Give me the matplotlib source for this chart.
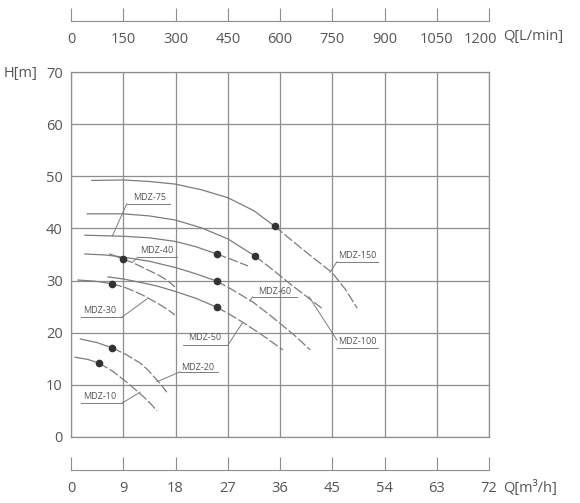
import matplotlib
matplotlib.use("Agg")
import matplotlib.pyplot as plt
import matplotlib.transforms as mtransforms

plt.rcParams["font.family"] = ["Open Sans", "DejaVu Sans"]

# pump curves: Q [m3/h] -> H [m]
# last item = index of the operating point (dot) in each curve
curves = {
    "MDZ-150": ([3.6, 9.0, 13.5, 18.0, 22.5, 27.0, 31.5, 35.1, 40.0, 45.0, 47.2, 49.3],
                [49.2, 49.3, 49.0, 48.5, 47.4, 45.9, 43.4, 40.4, 35.9, 31.5, 28.4, 24.7], 7),
    "MDZ-100": ([2.8, 9.0, 13.5, 18.0, 22.5, 27.0, 31.7, 34.5, 37.7, 40.5, 43.2],
                [42.8, 42.8, 42.4, 41.6, 40.1, 38.0, 34.7, 32.3, 29.4, 27.0, 24.7], 6),
    "MDZ-75": ([2.4, 9.0, 13.5, 18.0, 21.5, 25.1, 28.0, 30.5],
               [38.7, 38.5, 38.2, 37.5, 36.5, 35.1, 33.9, 32.8], 5),
    "MDZ-60": ([2.4, 6.0, 9.0, 13.5, 18.0, 21.5, 25.1, 28.0, 31.3, 34.0, 36.0, 38.7, 41.2],
               [35.1, 34.9, 34.5, 33.7, 32.5, 31.3, 29.9, 28.1, 25.9, 23.6, 21.8, 19.3, 16.7], 6),
    "MDZ-50": ([6.4, 9.0, 12.2, 15.0, 18.0, 21.5, 25.1, 27.5, 29.6, 33.0, 36.5],
               [30.7, 30.3, 29.6, 28.9, 27.9, 26.6, 24.9, 23.4, 22.0, 19.5, 16.7], 6),
    "MDZ-40": ([6.7, 9.0, 10.5, 12.2, 13.5, 15.0, 16.5, 17.9],
               [35.1, 34.1, 33.5, 32.6, 31.9, 31.1, 30.1, 28.8], 1),
    "MDZ-30": ([1.2, 4.0, 7.1, 9.5, 12.2, 14.0, 15.3, 16.7, 17.9],
               [30.1, 29.9, 29.4, 28.6, 27.3, 26.2, 25.4, 24.4, 23.4], 2),
    "MDZ-20": ([1.6, 4.5, 7.1, 9.5, 11.9, 13.3, 14.5, 15.6, 16.5],
               [18.8, 18.1, 17.1, 15.8, 14.2, 12.8, 11.3, 9.9, 8.6], 2),
    "MDZ-10": ([0.7, 2.8, 4.8, 7.2, 9.6, 11.3, 12.7, 13.8, 14.8],
               [15.3, 14.9, 14.2, 12.6, 10.5, 8.9, 7.5, 6.3, 5.0], 2),
}

# label text position, underline (x0, x1, y), leader (x0, y0, x1, y1)
labels = {
    "MDZ-150": ((49.3, 34.9), (45.8, 52.9, 33.6), (45.8, 33.6, 44.6, 31.6)),
    "MDZ-100": ((49.3, 18.3), (45.8, 52.9, 17.1), (45.8, 18.6, 41.0, 26.9)),
    "MDZ-75": ((13.6, 46.0), (9.6, 17.1, 44.7), (9.6, 44.7, 7.1, 38.5)),
    "MDZ-40": ((14.8, 35.7), (11.5, 18.3, 34.5), (11.5, 34.5, 10.7, 33.6)),
    "MDZ-30": ((5.0, 24.2), (1.7, 8.8, 23.0), (8.8, 23.0, 13.1, 26.5)),
    "MDZ-60": ((35.1, 28.0), (31.3, 38.9, 26.9), (31.3, 26.9, 30.8, 26.1)),
    "MDZ-50": ((23.1, 19.0), (19.3, 27.0, 17.6), (27.0, 17.6, 29.6, 22.0)),
    "MDZ-20": ((21.9, 13.4), (18.8, 25.3, 12.5), (18.8, 12.5, 14.8, 10.6)),
    "MDZ-10": ((5.0, 7.7), (1.7, 8.8, 6.5), (8.8, 6.5, 11.9, 8.6)),
}

q_m3h = list(range(0, 73, 9))
q_lmin = list(range(0, 1201, 150))
h_ticks = list(range(0, 71, 10))

W, H = 580, 503
GRID = "#8e8e8e"
LINE = "#7c7c7c"
TXT = "#555555"


def fx(px):
    return px / W


def fy(py):
    return 1 - py / H


fig = plt.figure(figsize=(W / 100, H / 100), dpi=100)

# main chart
ax = fig.add_axes([fx(71), fy(437), fx(489) - fx(71), fy(72) - fy(437)])
ax.set_xlim(0, 72)
ax.set_ylim(0, 70)
ax.set_xticks(q_m3h)
ax.set_yticks(h_ticks)
ax.grid(True, color=GRID, lw=0.9)
ax.tick_params(axis="x", length=0, labelbottom=False)
ax.tick_params(axis="y", length=0, pad=6, labelsize=10.5, labelcolor=TXT)
for s in ax.spines.values():
    s.set_color(GRID)
    s.set_linewidth(0.9)

for name, (qs, hs, k) in curves.items():
    ax.plot(qs[:k + 1], hs[:k + 1], color=LINE, lw=0.9, zorder=3)
    ax.plot(qs[k:], hs[k:], color=LINE, lw=0.9, dashes=(8, 2), zorder=3)
    ax.plot([qs[k]], [hs[k]], "o", color="#333333", ms=4.5, zorder=4)

for name, ((tx, ty), (u0, u1, uy), (lx0, ly0, lx1, ly1)) in labels.items():
    ax.text(tx, ty, name, fontsize=6.5, color=TXT, ha="center", va="center", zorder=5)
    ax.plot([u0, u1], [uy, uy], color=LINE, lw=0.7, zorder=3)
    ax.plot([lx0, lx1], [ly0, ly1], color=LINE, lw=0.7, zorder=3)


def scale_axis(ypx, lim, ticks):
    a = fig.add_axes([fx(71), fy(ypx), fx(489) - fx(71), 0.001])
    a.set_xlim(*lim)
    a.set_xticks(ticks)
    a.set_yticks([])
    for side in ("top", "left", "right"):
        a.spines[side].set_visible(False)
    a.spines["bottom"].set_color(GRID)
    a.tick_params(axis="x", direction="in", length=9.5, color=GRID, pad=8,
                  labelsize=10.5, labelcolor=TXT)
    a.patch.set_visible(False)
    return a


ax_top = scale_axis(21, (0, 1200), q_lmin)   # top scale, L/min
scale_axis(470, (0, 72), q_m3h)              # bottom scale, m3/h

# the last L/min label sits a bit to the left so it doesn't hit the unit
last = ax_top.get_xticklabels()[-1]
last.set_transform(last.get_transform()
                   + mtransforms.ScaledTranslation(-9 / 100, 0, fig.dpi_scale_trans))

fig.text(fx(503), fy(37), "Q[L/min]", fontsize=10.5, color=TXT, va="center", ha="left")
fig.text(fx(503), fy(488), "Q[m³/h]", fontsize=10.5, color=TXT, va="center", ha="left")
fig.text(fx(4), fy(73), "H[m]", fontsize=10.5, color=TXT, va="center", ha="left")

fig.savefig("out.png", dpi=100)
